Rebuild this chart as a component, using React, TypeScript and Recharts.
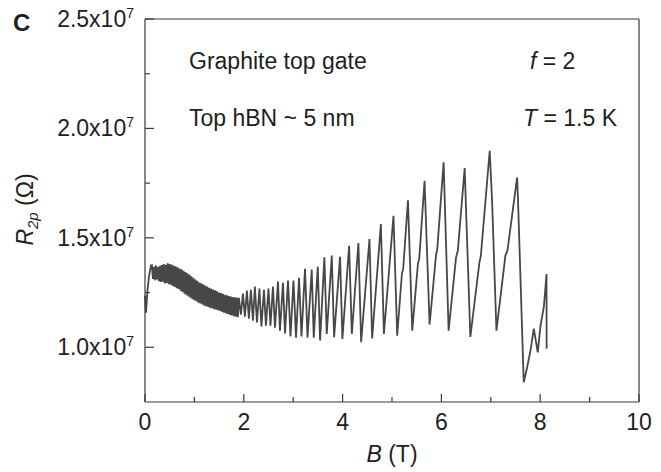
import { LineChart, Line, XAxis, YAxis, ReferenceLine } from "recharts";

// B in tesla, R_2p in units of 1e7 ohm
const sweepStart: [number, number][] = [
  [0.0, 1.236], [0.02, 1.158], [0.05, 1.259], [0.08, 1.323], [0.12, 1.373],
];

// low-field part: dense oscillations that blur into a band
const noisyBand: [number, number][] = [
  [0.14, 1.375], [0.16, 1.312], [0.18, 1.368], [0.2, 1.306], [0.22, 1.374],
  [0.24, 1.31], [0.26, 1.366], [0.28, 1.302], [0.3, 1.372], [0.32, 1.298],
  [0.34, 1.376], [0.36, 1.3], [0.38, 1.38], [0.4, 1.292], [0.42, 1.377],
  [0.44, 1.294], [0.46, 1.384], [0.48, 1.288], [0.5, 1.38], [0.52, 1.286],
  [0.54, 1.378], [0.56, 1.28], [0.58, 1.374], [0.6, 1.276], [0.62, 1.37],
  [0.64, 1.27], [0.66, 1.366], [0.68, 1.266], [0.7, 1.36], [0.72, 1.258],
  [0.74, 1.356], [0.76, 1.252], [0.78, 1.35], [0.8, 1.244], [0.82, 1.344],
  [0.84, 1.238], [0.86, 1.338], [0.88, 1.232], [0.9, 1.332], [0.92, 1.226],
  [0.94, 1.324], [0.96, 1.22], [0.98, 1.318], [1.0, 1.214], [1.02, 1.31],
  [1.04, 1.21], [1.06, 1.304], [1.08, 1.204], [1.1, 1.296], [1.12, 1.2],
  [1.14, 1.292], [1.16, 1.196], [1.18, 1.288], [1.2, 1.19], [1.22, 1.282],
  [1.24, 1.188], [1.26, 1.278], [1.28, 1.184], [1.3, 1.272], [1.32, 1.18],
  [1.34, 1.268], [1.36, 1.178], [1.38, 1.264], [1.4, 1.174], [1.42, 1.26],
  [1.44, 1.172], [1.46, 1.256], [1.48, 1.169], [1.5, 1.25], [1.52, 1.166],
  [1.54, 1.248], [1.56, 1.162], [1.58, 1.244], [1.6, 1.158], [1.62, 1.24],
  [1.64, 1.155], [1.66, 1.237], [1.68, 1.152], [1.7, 1.234], [1.72, 1.148],
  [1.74, 1.232], [1.76, 1.145], [1.78, 1.23], [1.8, 1.142], [1.82, 1.228],
  [1.84, 1.14], [1.86, 1.227], [1.88, 1.138], [1.9, 1.226],
];

const oscillations: [number, number][] = [
  [1.941, 1.149], [1.982, 1.245], [2.022, 1.14], [2.063, 1.259], [2.103, 1.131],
  [2.144, 1.263], [2.185, 1.122], [2.225, 1.277], [2.266, 1.113], [2.316, 1.268],
  [2.357, 1.095], [2.408, 1.263], [2.448, 1.099], [2.499, 1.268], [2.54, 1.099],
  [2.59, 1.277], [2.631, 1.09], [2.692, 1.3], [2.732, 1.076], [2.793, 1.295],
  [2.834, 1.063], [2.895, 1.305], [2.945, 1.049], [3.006, 1.305], [3.057, 1.044],
  [3.118, 1.318], [3.168, 1.049], [3.239, 1.359], [3.29, 1.044], [3.375, 1.355],
  [3.416, 1.044], [3.497, 1.368], [3.544, 1.031], [3.631, 1.411], [3.679, 1.061],
  [3.781, 1.419], [3.828, 1.046], [3.949, 1.414], [3.996, 1.038], [4.132, 1.464],
  [4.187, 1.061], [4.32, 1.476], [4.375, 1.023], [4.544, 1.495], [4.598, 1.04],
  [4.775, 1.563], [4.836, 1.061], [5.03, 1.601], [5.105, 1.053], [5.201, 1.337],
  [5.227, 1.359], [5.323, 1.672], [5.41, 1.076], [5.525, 1.382], [5.552, 1.405],
  [5.659, 1.761], [5.761, 1.104], [5.89, 1.419], [5.917, 1.451], [6.045, 1.845],
  [6.146, 1.076], [6.296, 1.41], [6.333, 1.442], [6.471, 1.819], [6.586, 1.047],
  [6.769, 1.387], [6.799, 1.419], [6.978, 1.898], [7.026, 1.67], [7.114, 1.076],
  [7.296, 1.419], [7.337, 1.442], [7.533, 1.776], [7.55, 1.679], [7.667, 0.84],
];

const highFieldTail: [number, number][] = [
  [7.736, 0.909], [7.803, 0.985], [7.87, 1.085], [7.951, 0.977], [8.006, 1.099],
  [8.073, 1.183], [8.128, 1.335], [8.13, 0.993],
];

const xTicks = [0, 1, 2, 3, 4, 5, 6, 7, 8, 9, 10];
const xLabeled = [0, 2, 4, 6, 8, 10];
const yTicks = [1.0, 1.25, 1.5, 1.75, 2.0, 2.25, 2.5];
const yLabeled = [1.0, 1.5, 2.0, 2.5];

const data = [...sweepStart, ...noisyBand, ...oscillations, ...highFieldTail].map(
  ([b, r]) => ({ b, r })
);

const FONT = "'Liberation Sans', Arial, sans-serif";
const INK = "#1e1e1e";
const AXIS = "#3a3a3a";

const XTick = (props: any) => {
  const { x, y, payload } = props;
  const v = payload.value;
  const major = xLabeled.includes(v);
  return (
    <g>
      <line x1={x} x2={x} y1={y} y2={y - (major ? 8 : 5)} stroke={AXIS} strokeWidth={1.2} />
      {major && (
        <text x={x} y={y + 28} textAnchor="middle" fontSize={23} fill={INK} fontFamily={FONT}>
          {v}
        </text>
      )}
    </g>
  );
};

const YTick = (props: any) => {
  const { x, y, payload } = props;
  const v = payload.value;
  const major = yLabeled.some((m) => Math.abs(m - v) < 1e-6);
  return (
    <g>
      <line x1={x} x2={x + (major ? 9 : 5)} y1={y} y2={y} stroke={AXIS} strokeWidth={1.2} />
      {major && (
        <text x={x - 11} y={y + 8} textAnchor="end" fontSize={23} fill={INK} fontFamily={FONT}>
          <tspan>{v.toFixed(1)}x10</tspan>
          <tspan dy={-9} fontSize={14}>7</tspan>
        </text>
      )}
    </g>
  );
};

export default function App() {
  return (
    <div style={{ position: "absolute", left: 0, top: 0, width: 661, height: 472, background: "#fff" }}>
      <LineChart width={661} height={472} data={data} margin={{ top: 19, right: 22, bottom: 0, left: 0 }}>
        <XAxis
          dataKey="b"
          type="number"
          domain={[0, 10]}
          ticks={xTicks}
          interval={0}
          height={70}
          tickSize={0}
          tickMargin={0}
          tickLine={false}
          tick={<XTick />}
          stroke={AXIS}
          strokeWidth={1.2}
        />
        <YAxis
          type="number"
          domain={[0.75, 2.5]}
          ticks={yTicks}
          interval={0}
          width={145}
          tickSize={0}
          tickMargin={0}
          tickLine={false}
          tick={<YTick />}
          stroke={AXIS}
          strokeWidth={1.2}
          allowDataOverflow
        />
        <ReferenceLine x={10} stroke={AXIS} strokeWidth={1.2} />
        <ReferenceLine y={2.5} stroke={AXIS} strokeWidth={1.2} />
        <Line
          dataKey="r"
          type="linear"
          dot={false}
          stroke="#474747"
          strokeWidth={1.8}
          isAnimationActive={false}
        />
      </LineChart>
      <svg
        width={661}
        height={472}
        style={{ position: "absolute", left: 0, top: 0, pointerEvents: "none" }}
        fontFamily={FONT}
        fill={INK}
      >
        <text x={13} y={31} fontSize={24} fontWeight="bold">C</text>
        <text x={189} y={69} fontSize={23}>Graphite top gate</text>
        <text x={530} y={69} fontSize={23}>
          <tspan fontStyle="italic">f</tspan>
          <tspan> = 2</tspan>
        </text>
        <text x={189} y={126} fontSize={23}>Top hBN ~ 5 nm</text>
        <text x={523} y={126} fontSize={23}>
          <tspan fontStyle="italic">T</tspan>
          <tspan> = 1.5 K</tspan>
        </text>
        <text x={392} y={462} fontSize={23} textAnchor="middle">
          <tspan fontStyle="italic">B</tspan>
          <tspan> (T)</tspan>
        </text>
        <text x={33} y={209.5} fontSize={23} textAnchor="middle" transform="rotate(-90 33 209.5)">
          <tspan fontStyle="italic">R</tspan>
          <tspan fontStyle="italic" fontSize={15} dy={5}>2p</tspan>
          <tspan dy={-5}> (Ω)</tspan>
        </text>
      </svg>
    </div>
  );
}
